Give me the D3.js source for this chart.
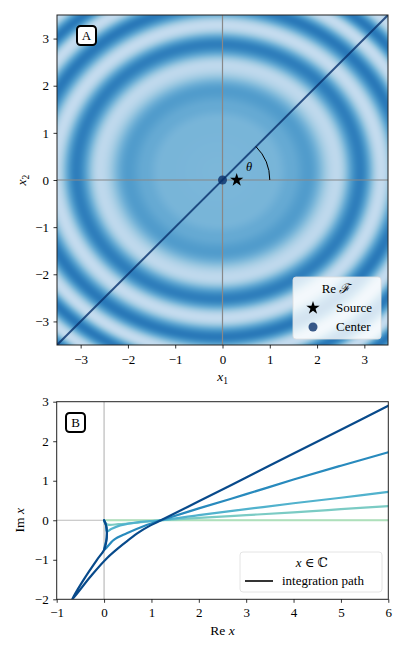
<!DOCTYPE html>
<html><head><meta charset="utf-8">
<script src="https://cdn.jsdelivr.net/npm/d3@7"></script>
<style>
body{margin:0;background:#fff}
svg{display:block}
text{font-family:'Liberation Serif','DejaVu Serif',serif;fill:#000}
</style>
</head><body>
<svg id="c" width="407" height="651"></svg>
<script>
// ---------- data ----------
const ticksA = [-3,-2,-1,0,1,2,3];
const ticksBx = [-1,0,1,2,3,4,5,6];
const ticksBy = [-2,-1,0,1,2,3];
const ringRho  = [0, 1.2, 1.55, 1.9, 2.5, 3.0, 3.45, 3.9, 4.3, 4.65, 5.0, 5.3, 5.6, 5.9];
const ringTone = [0.46,0.47,0.52,0.58,0.27,0.7,0.25,0.72,0.25,0.72,0.25,0.72,0.25,0.72];
const ringCenter = [-0.09, 0.18];
const ringAspect = 0.9;
const sourcePt = [0.3, 0];
const centerPt = [0, 0];
const thetaDeg = 45;
const arcRadius = 1;
// integration paths (Re x, Im x) for increasing theta
const pathTones = [0.35, 0.5, 0.62, 0.76, 0.97];
const paths = [
  [[0,0],[1,0],[2,0],[3,0],[4,0],[5,0],[6,0]],
  [[0,0],[0.02,-0.07],[0.08,-0.11],[0.3,-0.1],[0.7,-0.06],[1.2,0],[2,0.06],[3,0.13],[4,0.2],[5,0.28],[6,0.36]],
  [[0,0],[0.04,-0.12],[0.06,-0.28],[0.15,-0.22],[0.34,-0.13],[0.77,-0.04],[1.2,0],[2,0.13],[3,0.28],[4,0.43],[5,0.57],[6,0.72]],
  [[0,0],[0.04,-0.12],[0.06,-0.3],[0.05,-0.5],[0,-0.75],[0.2,-0.5],[0.48,-0.33],[0.9,-0.12],[1.2,0],[2,0.3],[3,0.66],[4,1.03],[5,1.38],[6,1.72]],
  [[0,0],[0.04,-0.12],[0.06,-0.3],[0.04,-0.58],[0,-0.75],[-0.15,-1.0],[-0.43,-1.5],[-0.69,-2.03],[-0.29,-1.43],[0.06,-0.96],[0.45,-0.56],[0.7,-0.33],[0.98,-0.13],[1.2,0],[2,0.48],[3,1.08],[4,1.69],[5,2.29],[6,2.9]]
];

// ---------- layout ----------
const FONT="'Liberation Serif','DejaVu Serif',serif";
const svg = d3.select('#c');
const xA = d3.scaleLinear([-3.5,3.5],[57,388]);
const yA = d3.scaleLinear([-3.5,3.5],[345,15]);
const xB = d3.scaleLinear([-1,6],[56.7,388.3]);
const yB = d3.scaleLinear([-2,3],[599.3,401.7]);
const fmt = d => d < 0 ? '\u2212' + Math.abs(d) : String(d);

// ---------- heatmap ----------
function tone(rho){
  if (rho <= ringRho[0]) return ringTone[0];
  for (let i=0;i<ringRho.length-1;i++){
    if (rho < ringRho[i+1]){
      const f=(rho-ringRho[i])/(ringRho[i+1]-ringRho[i]);
      const s=(1-Math.cos(Math.PI*f))/2;
      return ringTone[i]+(ringTone[i+1]-ringTone[i])*s;
    }
  }
  return ringTone[ringTone.length-1];
}
const x0=Math.round(xA.range()[0]), x1=Math.round(xA.range()[1]);
const y0=Math.round(yA.range()[1]), y1=Math.round(yA.range()[0]);
const W=x1-x0, H=y1-y0;
const cnv=document.createElement('canvas'); cnv.width=W; cnv.height=H;
const ctx=cnv.getContext('2d'); const im=ctx.createImageData(W,H);
for(let j=0;j<H;j++){
  const yy=yA.invert(y0+j+0.5);
  for(let i=0;i<W;i++){
    const xx=xA.invert(x0+i+0.5);
    const rho=Math.hypot(xx-ringCenter[0],(yy-ringCenter[1])/ringAspect);
    const c=d3.rgb(d3.interpolateBlues(tone(rho)));
    const k=4*(j*W+i); im.data[k]=c.r; im.data[k+1]=c.g; im.data[k+2]=c.b; im.data[k+3]=255;
  }
}
ctx.putImageData(im,0,0);
svg.append('image').attr('x',x0).attr('y',y0).attr('width',W).attr('height',H)
  .attr('preserveAspectRatio','none').attr('href',cnv.toDataURL());

const gA = svg.append('g');
svg.append('clipPath').attr('id','clipA').append('rect').attr('x',x0).attr('y',y0).attr('width',W).attr('height',H);
const gAc = gA.append('g').attr('clip-path','url(#clipA)');
gAc.append('line').attr('x1',xA(0)).attr('x2',xA(0)).attr('y1',y0).attr('y2',y1).attr('stroke','#888').attr('stroke-width',1.2);
gAc.append('line').attr('x1',x0).attr('x2',x1).attr('y1',yA(0)).attr('y2',yA(0)).attr('stroke','#888').attr('stroke-width',1.2);
const tt=Math.tan(thetaDeg*Math.PI/180);
gAc.append('line').attr('x1',xA(-3.5)).attr('y1',yA(-3.5*tt)).attr('x2',xA(3.5)).attr('y2',yA(3.5*tt))
  .attr('stroke','#08306b').attr('stroke-opacity',0.8).attr('stroke-width',2);
const rpx = xA(arcRadius)-xA(0);
const p = d3.path(); p.arc(xA(0),yA(0),rpx,0,-thetaDeg*Math.PI/180,true);
gAc.append('path').attr('d',p.toString()).attr('fill','none').attr('stroke','#000').attr('stroke-width',1);
gA.append('text').attr('x',xA(0.56)).attr('y',yA(0.25)).attr('text-anchor','middle').attr('dominant-baseline','middle')
  .attr('font-size',12.5).attr('font-style','italic').text('\u03b8');
gAc.append('circle').attr('cx',xA(centerPt[0])).attr('cy',yA(centerPt[1])).attr('r',4.5).attr('fill','#08306b').attr('fill-opacity',0.8);
gAc.append('path').attr('d',d3.symbol(d3.symbolStar,55)()).attr('transform',`translate(${xA(sourcePt[0])},${yA(sourcePt[1])})`).attr('fill','#000');
gA.append('rect').attr('x',x0).attr('y',y0).attr('width',W).attr('height',H).attr('fill','none').attr('stroke','#222').attr('stroke-width',1);
function styleAxis(g){ g.select('.domain').remove(); g.selectAll('line').attr('stroke','#000').attr('stroke-width',0.8);
  g.selectAll('text').attr('font-size',13).attr('font-family',FONT); }
gA.append('g').attr('transform',`translate(0,${y1})`).call(d3.axisBottom(xA).tickValues(ticksA).tickFormat(fmt).tickSize(3.5).tickPadding(6)).call(styleAxis);
gA.append('g').attr('transform',`translate(${x0},0)`).call(d3.axisLeft(yA).tickValues(ticksA).tickFormat(fmt).tickSize(3.5).tickPadding(4.5)).call(styleAxis);
const lx1=gA.append('text').attr('x',xA(0)).attr('y',381).attr('text-anchor','middle').attr('font-size',13.5);
lx1.append('tspan').attr('font-style','italic').text('x');
lx1.append('tspan').attr('font-size',9.5).attr('dy',2.5).text('1');
const lx2=gA.append('text').attr('transform',`translate(26,${yA(0)}) rotate(-90)`).attr('text-anchor','middle').attr('font-size',13.5);
lx2.append('tspan').attr('font-style','italic').text('x');
lx2.append('tspan').attr('font-size',9.5).attr('dy',2.5).text('2');
function tag(g,x,y,s){ g.append('rect').attr('x',x).attr('y',y).attr('width',19).attr('height',19).attr('rx',3.5)
  .attr('fill','#fff').attr('stroke','#000').attr('stroke-width',2);
  g.append('text').attr('x',x+9.5).attr('y',y+14).attr('text-anchor','middle').attr('font-size',13).text(s); }
tag(gA,77,26,'A');
const lg=gA.append('g');
lg.append('rect').attr('x',293).attr('y',277).attr('width',88).attr('height',62).attr('rx',3)
  .attr('fill','#fff').attr('fill-opacity',0.8).attr('stroke','#ddd').attr('stroke-width',0.8);
const lt=lg.append('text').attr('x',336).attr('y',293).attr('text-anchor','middle').attr('font-size',13);
lt.append('tspan').text('Re ');
lt.append('tspan').attr('font-style','italic').text('\u2131');
lg.append('path').attr('d',d3.symbol(d3.symbolStar,55)()).attr('transform','translate(313,308)').attr('fill','#000');
lg.append('text').attr('x',336).attr('y',312).attr('font-size',13).text('Source');
lg.append('circle').attr('cx',313).attr('cy',327).attr('r',4.5).attr('fill','#08306b').attr('fill-opacity',0.8);
lg.append('text').attr('x',336).attr('y',331).attr('font-size',13).text('Center');

// ---------- panel B ----------
const gB=svg.append('g');
const bx0=xB.range()[0], bx1=xB.range()[1], by0=yB.range()[1], by1=yB.range()[0];
svg.append('clipPath').attr('id','clipB').append('rect').attr('x',bx0).attr('y',by0).attr('width',bx1-bx0).attr('height',by1-by0);
const gBc=gB.append('g').attr('clip-path','url(#clipB)');
gBc.append('line').attr('x1',xB(0)).attr('x2',xB(0)).attr('y1',by0).attr('y2',by1).attr('stroke','#bbb').attr('stroke-width',1.2);
gBc.append('line').attr('x1',bx0).attr('x2',bx1).attr('y1',yB(0)).attr('y2',yB(0)).attr('stroke','#bbb').attr('stroke-width',1.2);
const line=d3.line().x(d=>xB(d[0])).y(d=>yB(d[1])).curve(d3.curveCatmullRom.alpha(0.5));
paths.forEach((pts,i)=>{
  gBc.append('path').attr('d',line(pts)).attr('fill','none').attr('stroke',d3.interpolateGnBu(pathTones[i]))
    .attr('stroke-width',2.2).attr('stroke-linejoin','round').attr('stroke-linecap','round');
});
gB.append('rect').attr('x',bx0).attr('y',by0).attr('width',bx1-bx0).attr('height',by1-by0).attr('fill','none').attr('stroke','#222').attr('stroke-width',1);
gB.append('g').attr('transform',`translate(0,${by1})`).call(d3.axisBottom(xB).tickValues(ticksBx).tickFormat(fmt).tickSize(3.5).tickPadding(5)).call(styleAxis);
gB.append('g').attr('transform',`translate(${bx0},0)`).call(d3.axisLeft(yB).tickValues(ticksBy).tickFormat(fmt).tickSize(3.5).tickPadding(4.5)).call(styleAxis);
const lre=gB.append('text').attr('x',xB(2.5)).attr('y',635).attr('text-anchor','middle').attr('font-size',13.5);
lre.append('tspan').text('Re ');
lre.append('tspan').attr('font-style','italic').text('x');
const lim=gB.append('text').attr('transform',`translate(24,${yB(0)}) rotate(-90)`).attr('text-anchor','middle').attr('font-size',13.5);
lim.append('tspan').text('Im ');
lim.append('tspan').attr('font-style','italic').text('x');
tag(gB,66,413,'B');
const lgb=gB.append('g');
lgb.append('rect').attr('x',240).attr('y',552).attr('width',142).attr('height',40).attr('rx',3)
  .attr('fill','#fff').attr('fill-opacity',0.8).attr('stroke','#ddd').attr('stroke-width',0.8);
const lbt=lgb.append('text').attr('x',312).attr('y',567).attr('text-anchor','middle').attr('font-size',13);
lbt.append('tspan').attr('font-style','italic').text('x');
lbt.append('tspan').text(' \u2208 \u2102');
lgb.append('line').attr('x1',245).attr('x2',273).attr('y1',581).attr('y2',581).attr('stroke','#000').attr('stroke-width',1.6);
lgb.append('text').attr('x',282).attr('y',585).attr('font-size',13).text('integration path');
</script>
</body></html>
